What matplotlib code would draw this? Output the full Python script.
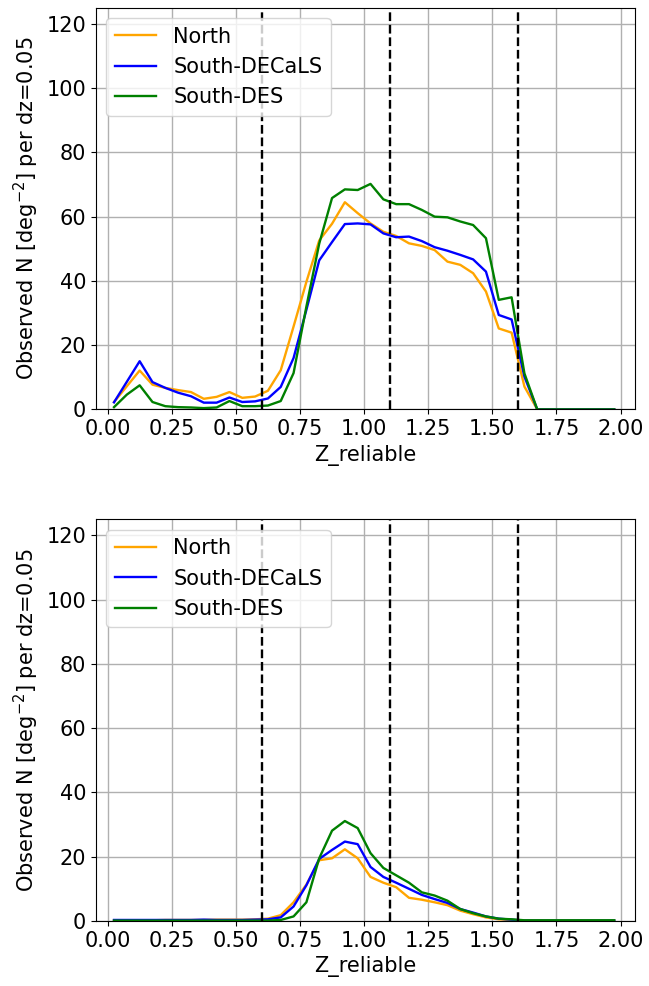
import numpy as np
import matplotlib
matplotlib.use('Agg')
from matplotlib import pyplot as plt

dz = 0.05
z = np.arange(0.025, 2.0, dz)  # bin centres, 40 bins
zcuts = [0.6, 1.1, 1.6]
labels = ['North', 'South-DECaLS', 'South-DES']
colors = ['orange', 'blue', 'green']

# top panel
north_top = [2.3, 7.2, 12.1, 7.7, 6.7, 6.0, 5.4, 3.3, 3.9, 5.4, 3.6, 4.0, 5.8, 12.2, 25.8, 39.7, 52.6, 57.8, 64.5, 61.1,
             57.9, 55.3, 54.0, 51.7, 50.9, 49.6, 46.0, 45.0, 42.4, 36.7, 25.2, 23.9, 7.1, 0.0, 0.0, 0.0, 0.0, 0.0, 0.0, 0.0]
decals_top = [2.2, 8.6, 15.0, 8.5, 6.7, 5.2, 4.1, 2.1, 2.1, 3.7, 2.3, 2.5, 3.4, 7.0, 16.0, 31.0, 46.4, 52.1, 57.7, 57.9,
              57.6, 54.8, 53.6, 53.8, 52.4, 50.5, 49.4, 48.1, 46.7, 42.9, 29.4, 28.0, 10.2, 0.0, 0.0, 0.0, 0.0, 0.0, 0.0, 0.0]
des_top = [0.7, 4.6, 7.5, 2.3, 1.0, 0.7, 0.6, 0.4, 0.6, 2.6, 1.0, 1.0, 1.2, 2.6, 11.3, 32.0, 51.6, 65.8, 68.5, 68.3,
           70.2, 65.4, 63.9, 63.9, 62.1, 60.0, 59.8, 58.5, 57.4, 53.3, 34.1, 34.9, 11.2, 0.0, 0.0, 0.0, 0.0, 0.0, 0.0, 0.0]

# bottom panel
north_bot = [0.2, 0.2, 0.2, 0.2, 0.3, 0.3, 0.3, 0.3, 0.4, 0.4, 0.4, 0.5, 0.7, 1.8, 5.8, 11.3, 18.9, 19.5, 22.3, 19.5,
             13.7, 11.9, 10.5, 7.2, 6.6, 5.8, 4.9, 3.2, 2.1, 1.1, 0.5, 0.3, 0.1, 0.1, 0.1, 0.1, 0.1, 0.1, 0.1, 0.1]
decals_bot = [0.3, 0.3, 0.3, 0.3, 0.3, 0.3, 0.3, 0.4, 0.3, 0.3, 0.3, 0.4, 0.5, 1.1, 4.5, 11.1, 19.3, 22.1, 24.7, 23.9,
              16.8, 13.7, 11.9, 10.0, 8.1, 6.8, 5.6, 3.7, 2.6, 1.4, 0.7, 0.4, 0.1, 0.1, 0.1, 0.1, 0.1, 0.1, 0.1, 0.1]
des_bot = [0.1, 0.1, 0.1, 0.1, 0.1, 0.1, 0.1, 0.1, 0.1, 0.1, 0.1, 0.1, 0.1, 0.3, 1.4, 5.8, 19.5, 28.1, 31.1, 28.9,
           21.1, 16.5, 14.2, 11.9, 8.9, 7.9, 6.3, 3.7, 2.4, 1.4, 0.7, 0.5, 0.2, 0.2, 0.2, 0.2, 0.2, 0.2, 0.2, 0.2]

panels = [[north_top, decals_top, des_top], [north_bot, decals_bot, des_bot]]

plt.rcParams['font.size'] = 15
fig, axes = plt.subplots(2, 1, figsize=(6.49, 9.86), dpi=100)
fig.subplots_adjust(left=0.148, right=0.978, top=0.992, bottom=0.066, hspace=0.274)

for ax, series in zip(axes, panels):
    for y, lab, c in zip(series, labels, colors):
        ax.plot(z, y, color=c, lw=1.7, label=lab)
    for zc in zcuts:
        ax.axvline(zc, color='k', ls='--', lw=1.7)
    ax.set_xlim(-0.045, 2.055)
    ax.set_ylim(0, 125)
    ax.set_xticks(np.arange(0, 2.01, 0.25))
    ax.set_yticks(np.arange(0, 121, 20))
    ax.grid(True, color='#b0b0b0', lw=1)
    ax.set_axisbelow(True)
    ax.set_xlabel('Z_reliable')
    ax.set_ylabel(r'Observed N [deg$^{-2}$] per dz=0.05')
    ax.legend(loc='upper left')

fig.savefig('out.png', dpi=100)
